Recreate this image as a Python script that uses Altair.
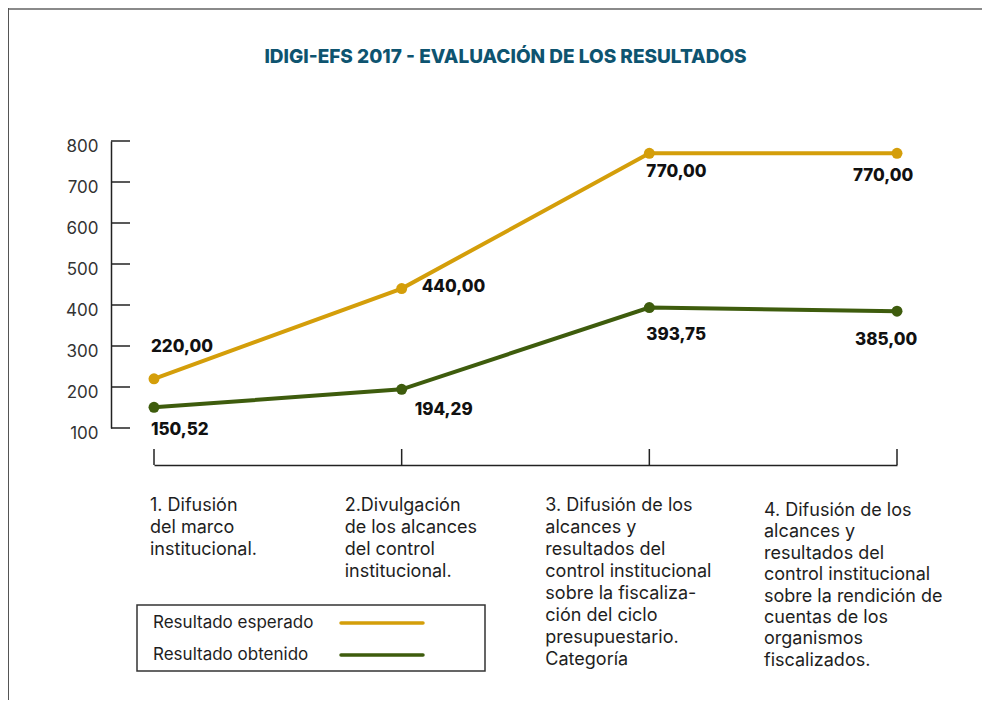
import altair as alt
import pandas as pd

# ---------------- data ----------------
categorias = ["1", "2", "3", "4"]
etiquetas_categorias = [
    "1. Difusión\ndel marco\ninstitucional.",
    "2.Divulgación\nde los alcances\ndel control\ninstitucional.",
    "3. Difusión de los\nalcances y\nresultados del\ncontrol institucional\nsobre  la fiscaliza-\nción del ciclo\npresupuestario.\nCategoría",
    "4. Difusión de los\nalcances y\nresultados del\ncontrol institucional\nsobre la rendición de\ncuentas de los\norganismos\nfiscalizados.",
]
series = ["Resultado esperado", "Resultado obtenido"]
esperado = [220.00, 440.00, 770.00, 770.00]
obtenido = [150.52, 194.29, 393.75, 385.00]
textos_esperado = ["220,00", "440,00", "770,00", "770,00"]
textos_obtenido = ["150,52", "194,29", "393,75", "385,00"]
y_ticks = [100, 200, 300, 400, 500, 600, 700, 800]
titulo = "IDIGI-EFS 2017 - EVALUACIÓN DE LOS RESULTADOS"

colores = ["#D49E0A", "#3E5C0D"]

# ---------------- layout / style ----------------
W, H = 743, 287
PAD_L, PAD_T = 146, 133
PAD_R = 974 - PAD_L - W
PAD_B = 692 - PAD_T - H
FONT = "Inter"

x_scale = alt.Scale(type="point", domain=categorias, padding=0)
y_scale = alt.Scale(domain=[100, 800], nice=False, zero=False)

x_axis = alt.Axis(orient="bottom", offset=37, labels=False, ticks=False, domain=True,
                  domainColor="#222", domainWidth=1.5, grid=False, title=None)
y_axis = alt.Axis(orient="left", offset=43, values=y_ticks, ticks=False, domain=True,
                  domainColor="#222", domainWidth=1.5, grid=False, labelPadding=13,
                  labelFont=FONT, labelFontSize=17, labelColor="#333", labelOffset=5,
                  title=None)


def X():
    return alt.X("cat:N", scale=x_scale, axis=x_axis, title=None)


def Y():
    return alt.Y("valor:Q", scale=y_scale, axis=y_axis, title=None)


rows = []
for s, vals, txts in [(series[0], esperado, textos_esperado), (series[1], obtenido, textos_obtenido)]:
    for c, v, t in zip(categorias, vals, txts):
        rows.append({"cat": c, "serie": s, "valor": v, "texto": t})
df = pd.DataFrame(rows)

color_enc = alt.Color("serie:N", scale=alt.Scale(domain=series, range=colores), legend=None)

lines = alt.Chart(df).mark_line(strokeWidth=4).encode(x=X(), y=Y(), color=color_enc, detail="serie:N")
points = alt.Chart(df).mark_circle(size=120, opacity=1).encode(x=X(), y=Y(), color=color_enc)

layers = [lines, points]

# manual y-axis ticks (pointing inward)
df_yt = pd.DataFrame({"valor": y_ticks})
layers.append(
    alt.Chart(df_yt).mark_rule(color="#222", strokeWidth=1.5).encode(
        y=Y(), x=alt.value(-43), x2=alt.value(-24),
    )
)
# manual x-axis ticks (pointing upward)
df_xt = pd.DataFrame({"cat": categorias})
layers.append(
    alt.Chart(df_xt).mark_rule(color="#222", strokeWidth=1.5).encode(
        x=X(), y=alt.value(H + 21), y2=alt.value(H + 37),
    )
)

# value labels
offsets = {
    series[0]: [(-3, -32), (20, -2), (-3, 19), (-44, 23)],
    series[1]: [(-3, 23), (13, 21), (-3, 27), (-42, 29)],
}
for s in series:
    sub = df[df.serie == s].reset_index(drop=True)
    for i in range(len(sub)):
        dx, dy = offsets[s][i]
        layers.append(
            alt.Chart(sub.iloc[[i]]).mark_text(
                align="left", baseline="middle", dx=dx, dy=dy, font=FONT,
                fontSize=17, fontWeight=800, color="#111",
            ).encode(x=X(), y=Y(), text="texto:N")
        )

# category labels (below x axis)
df_lab = pd.DataFrame({"cat": categorias, "label": etiquetas_categorias})
lab_style = [(-4, 370, 22), (-57, 370, 22), (-104, 370, 22), (-133, 375, 21.4)]
for i in range(len(categorias)):
    dx, ypix, lh = lab_style[i]
    layers.append(
        alt.Chart(df_lab.iloc[[i]]).mark_text(
            align="left", baseline="alphabetic", dx=dx, lineBreak="\n", lineHeight=lh,
            font=FONT, fontSize=18, color="#1e1e1e",
        ).encode(x=X(), y=alt.value(ypix), text="label:N")
    )

# legend (label left, line right, framed)
one = pd.DataFrame({"k": [0]})
layers.append(
    alt.Chart(one).mark_rect(fill="white", fillOpacity=0, stroke="#333", strokeWidth=1.5).encode(
        x=alt.value(-17), x2=alt.value(331), y=alt.value(464), y2=alt.value(530)
    )
)
leg_y = [482, 514]
for s, col, yy in zip(series, colores, leg_y):
    dl = pd.DataFrame({"serie": [s]})
    layers.append(
        alt.Chart(dl).mark_text(align="left", baseline="middle", font=FONT, fontSize=17, color="#1e1e1e").encode(
            x=alt.value(-1), y=alt.value(yy), text="serie:N"
        )
    )
    layers.append(
        alt.Chart(dl).mark_rule(color=col, strokeWidth=3.5, strokeCap="round").encode(
            x=alt.value(187), x2=alt.value(269), y=alt.value(yy)
        )
    )

# page frame lines
layers.append(
    alt.Chart(one).mark_rule(color="#8a8a8a", strokeWidth=2).encode(
        x=alt.value(-PAD_L), x2=alt.value(W + PAD_R), y=alt.value(-PAD_T + 1)
    )
)
layers.append(
    alt.Chart(one).mark_rule(color="#555", strokeWidth=1).encode(
        x=alt.value(-PAD_L + 0.5), y=alt.value(-PAD_T), y2=alt.value(H + PAD_B)
    )
)

chart = alt.layer(*layers).properties(
    width=W, height=H,
    padding={"left": PAD_L, "top": PAD_T, "right": PAD_R, "bottom": PAD_B},
    autosize=alt.AutoSizeParams(type="none"),
    background="white",
    title=alt.TitleParams(
        titulo, font=FONT, fontSize=19, fontWeight=800, color="#0E5470",
        anchor="middle", frame="group", dx=-20, offset=-74, baseline="alphabetic",
    ),
).configure_view(stroke=None)

chart.save("out.html", embed_options={"renderer": "svg", "actions": False})
